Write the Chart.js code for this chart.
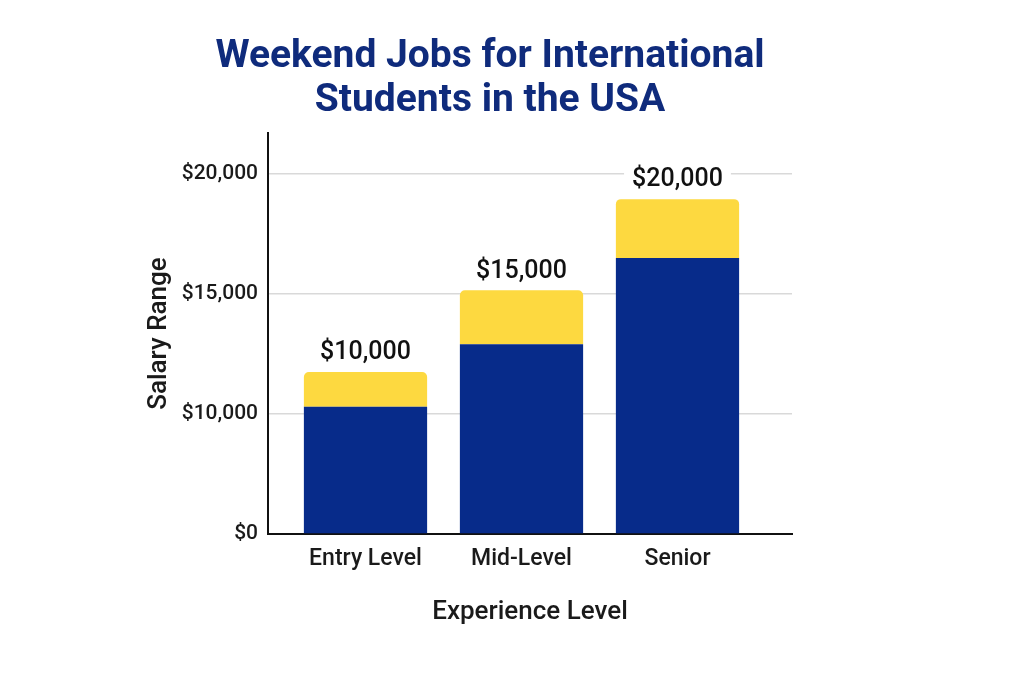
<!DOCTYPE html>
<html>
<head>
<meta charset="utf-8">
<title>Weekend Jobs for International Students in the USA</title>
<script src="https://cdn.jsdelivr.net/npm/chart.js@4.4.1/dist/chart.umd.min.js"></script>
<style>
    html, body { margin: 0; padding: 0; background: #ffffff; }
    #wrap { width: 1024px; height: 683px; }
</style>
</head>
<body>
<div id="wrap"><canvas id="salaryChart"></canvas></div>
<script>
const categories = ['Entry Level', 'Mid-Level', 'Senior'];
const baseSalary = [10300, 12900, 16500];
const rangeSalary = [1450, 2250, 2450];
const totalLabels = ['$10,000', '$15,000', '$20,000'];
const yTicks = [0, 10000, 15000, 20000];

// the picture's y axis is evenly spaced per tick, not linear in dollars
function valueToStep(v) {
    for (let i = 1; i < yTicks.length; i++) {
        if (v <= yTicks[i] || i === yTicks.length - 1) {
            return (i - 1) + (v - yTicks[i - 1]) / (yTicks[i] - yTicks[i - 1]);
        }
    }
    return 0;
}

function stepToValue(s) {
    let i = Math.min(Math.max(Math.floor(s), 0), yTicks.length - 2);
    return yTicks[i] + (s - i) * (yTicks[i + 1] - yTicks[i]);
}

class StepScale extends Chart.LinearScale {
    static id = 'step';
    static defaults = Chart.LinearScale.defaults;

    buildTicks() {
        return yTicks.map(v => ({ value: v }));
    }

    getPixelForValue(value) {
        if (value === null || isNaN(value)) return NaN;
        const lo = valueToStep(this.min);
        const hi = valueToStep(this.max);
        return this.getPixelForDecimal((valueToStep(value) - lo) / (hi - lo));
    }

    getValueForPixel(pixel) {
        const lo = valueToStep(this.min);
        const hi = valueToStep(this.max);
        return stepToValue(lo + this.getDecimalForPixel(pixel) * (hi - lo));
    }
}
Chart.register(StepScale);

const totalLabelPlugin = {
    id: 'totalLabels',
    afterDatasetsDraw(chart) {
        const ctx = chart.ctx;
        const meta = chart.getDatasetMeta(1);
        ctx.save();
        ctx.font = '500 25px Roboto';
        ctx.textAlign = 'center';
        ctx.textBaseline = 'middle';
        meta.data.forEach((bar, i) => {
            const text = totalLabels[i];
            const w = ctx.measureText(text).width;
            const y = bar.y - 19;
            ctx.fillStyle = '#ffffff';
            ctx.fillRect(bar.x - w / 2 - 8, y - 14, w + 16, 28);
            ctx.fillStyle = '#111111';
            ctx.fillText(text, bar.x, y);
        });
        ctx.restore();
    }
};

function initChart() {
    const ctx = document.getElementById('salaryChart').getContext('2d');
    window.salaryChart = new Chart(ctx, {
        type: 'bar',
        data: {
            datasets: [{
                label: 'Base',
                data: baseSalary.map((v, i) => ({ x: i, y: v })),
                backgroundColor: '#072b8a',
                borderRadius: 0
            }, {
                label: 'Range',
                data: rangeSalary.map((v, i) => ({ x: i, y: v })),
                backgroundColor: '#fdd940',
                borderRadius: { topLeft: 5, topRight: 5, bottomLeft: 0, bottomRight: 0 },
                borderSkipped: false
            }]
        },
        options: {
            responsive: true,
            maintainAspectRatio: false,
            animation: false,
            categoryPercentage: 1,
            barPercentage: 0.79,
            layout: { padding: { top: 0, left: 0, right: 44, bottom: 0 } },
            plugins: {
                legend: { display: false },
                tooltip: { enabled: false },
                title: {
                    display: true,
                    text: ['Weekend Jobs for International', 'Students in the USA'],
                    color: '#0f2b7c',
                    font: { family: 'Roboto', size: 39, weight: '700', lineHeight: 1.13 },
                    padding: { top: 35, bottom: 10 }
                }
            },
            scales: {
                x: {
                    type: 'linear',
                    min: -0.625,
                    max: 2.734,
                    offset: false,
                    stacked: true,
                    afterBuildTicks: axis => {
                        axis.ticks = categories.map((c, i) => ({ value: i }));
                    },
                    afterFit: axis => { axis.height = 149; },
                    grid: { display: false, drawTicks: false, offset: false },
                    border: { display: true, color: '#111111', width: 2 },
                    ticks: {
                        padding: 11,
                        maxRotation: 0,
                        autoSkip: false,
                        color: '#1a1a1a',
                        font: { family: 'Roboto', size: 23, weight: '500' },
                        callback: value => categories[value]
                    },
                    title: {
                        display: true,
                        text: 'Experience Level',
                        color: '#1a1a1a',
                        font: { family: 'Roboto', size: 26, weight: '500' },
                        padding: { top: 0, bottom: 55 }
                    }
                },
                y: {
                    type: 'step',
                    min: 0,
                    max: 21700,
                    stacked: true,
                    afterFit: axis => { axis.width = 268; },
                    grid: { color: '#d9d9d9', lineWidth: 1.5, drawTicks: false },
                    border: { display: true, color: '#111111', width: 2 },
                    ticks: {
                        padding: 10,
                        color: '#1a1a1a',
                        font: { family: 'Roboto', size: 21, weight: '500' },
                        callback: value => '$' + value.toLocaleString('en-US')
                    },
                    title: {
                        display: true,
                        text: 'Salary Range',
                        color: '#1a1a1a',
                        font: { family: 'Roboto', size: 26, weight: '500' },
                        padding: { top: 144, bottom: 0 }
                    }
                },
                spacer: {
                    type: 'linear',
                    position: 'right',
                    afterFit: axis => { axis.width = 188; },
                    grid: { display: false, drawTicks: false },
                    border: { display: false },
                    ticks: { display: false }
                }
            }
        },
        plugins: [totalLabelPlugin]
    });
}

initChart();
</script>
</body>
</html>
